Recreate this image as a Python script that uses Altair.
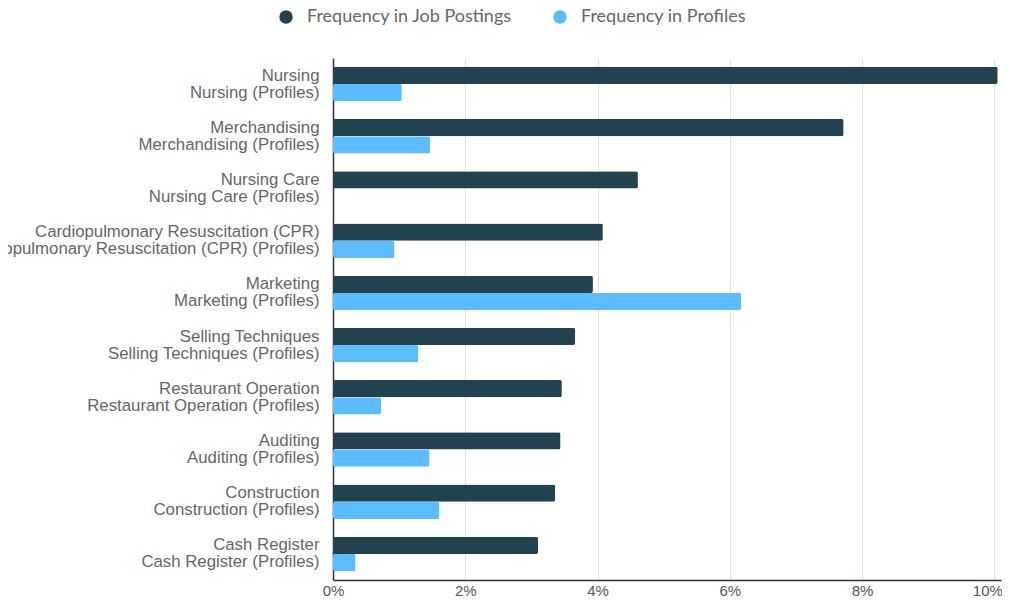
import altair as alt
import pandas as pd

categories = ["Nursing", "Merchandising", "Nursing Care", "Cardiopulmonary Resuscitation (CPR)",
              "Marketing", "Selling Techniques", "Restaurant Operation", "Auditing",
              "Construction", "Cash Register"]
job_postings = [10.05, 7.72, 4.61, 4.08, 3.93, 3.66, 3.46, 3.44, 3.36, 3.10]
profiles = [1.04, 1.47, 0.0, 0.93, 6.17, 1.29, 0.73, 1.46, 1.61, 0.34]
series = ["Frequency in Job Postings", "Frequency in Profiles"]
colors = ["#22424F", "#5BBCFF"]

rows = []
for c, j, p in zip(categories, job_postings, profiles):
    rows.append({"skill": c, "series": series[0], "value": j / 100})
    rows.append({"skill": c, "series": series[1], "value": p / 100})
df = pd.DataFrame(rows)

chart = alt.Chart(df).mark_bar(cornerRadius=2).encode(
    y=alt.Y("skill:N", sort=categories, title=None,
            scale=alt.Scale(paddingInner=0.34, paddingOuter=0.17),
            axis=alt.Axis(labelExpr="[datum.label, datum.label + ' (Profiles)']",
                          labelFontSize=16.8,
                          labelColor="#666666",
                          labelLineHeight=17, labelPadding=14, labelLimit=0, labelOffset=-8.5,
                          ticks=False, domainColor="#333333", domainWidth=1.5, grid=False)),
    yOffset=alt.YOffset("series:N", sort=series),
    x=alt.X("value:Q", title=None,
            scale=alt.Scale(domain=[0, 0.101], nice=False),
            axis=alt.Axis(values=[0, 0.02, 0.04, 0.06, 0.08, 0.10], format=".0%",
                          labelFontSize=15, labelColor="#555555",
                          labelAlign={"condition": {"test": "datum.value >= 0.1", "value": "right"},
                                      "value": "center"},
                          labelOffset={"condition": {"test": "datum.value >= 0.1", "value": 8},
                                       "value": 0},
                          labelPadding=3, ticks=False, domainColor="#333333", domainWidth=1.5,
                          gridColor="#e0e0e0", labelFlush=False)),
    color=alt.Color("series:N", sort=series,
                    scale=alt.Scale(domain=series, range=colors),
                    legend=alt.Legend(title=None, orient="none", legendX=-56, legendY=-50,
                                      direction="horizontal", symbolType="circle", symbolSize=180,
                                      labelFont="Lato", labelFontSize=18, labelColor="#666666",
                                      labelLimit=0, columnPadding=38, labelOffset=12,
                                      symbolStrokeWidth=0)),
).properties(
    width=668, height=522,
    autosize=alt.AutoSizeParams(type="none"),
    padding={"left": 325, "top": 50, "right": 1, "bottom": 22},
).configure_view(stroke=None).configure_axisY(labelFont="Liberation Sans").configure_axisX(labelFont="Liberation Sans")

chart.save("out.html", embed_options={"renderer": "svg", "actions": False})
